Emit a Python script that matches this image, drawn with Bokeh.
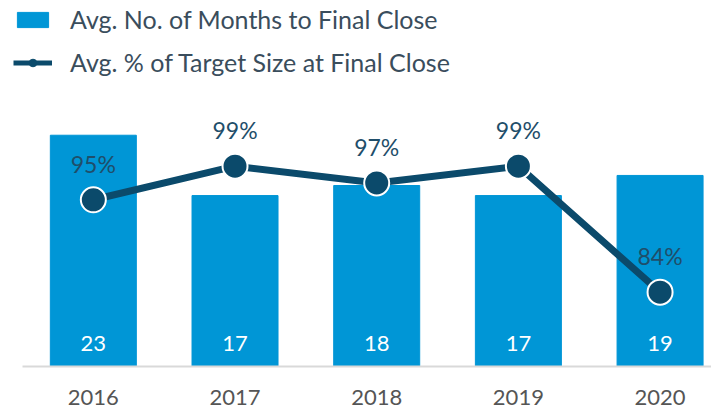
from bokeh.plotting import figure
from bokeh.models import Range1d, FixedTicker, Legend, LegendItem, ColumnDataSource
from bokeh.core.properties import value
from bokeh.embed import file_html
from bokeh.resources import INLINE

years = ["2016", "2017", "2018", "2019", "2020"]
months = [23, 17, 18, 17, 19]
pct = [95, 99, 97, 99, 84]

xs = [i + 0.5 for i in range(len(years))]
FONT = "Lato"
BLUE = "#0096d6"
NAVY = "#0b4a6b"

src = ColumnDataSource(dict(
    x=xs, months=months, pct=pct,
    mlab=[str(m) for m in months],
    plab=[f"{v}%" for v in pct],
))

p = figure(width=711, height=408, output_backend="svg", toolbar_location=None,
           x_range=Range1d(-0.0635, 4.863), y_range=Range1d(0, 36.0),
           y_axis_location=None,
           min_border_left=13, min_border_right=0, min_border_top=4, min_border_bottom=42)
p.extra_y_ranges = {"pct": Range1d(75.15, 118.25)}
p.grid.visible = False
p.outline_line_color = None

ax = p.xaxis[0]
ax.ticker = FixedTicker(ticks=xs)
ax.major_label_overrides = {x: y for x, y in zip(xs, years)}
ax.bounds = (0, len(years))
ax.axis_line_color = "#d9d9d9"
ax.axis_line_width = 2
ax.major_tick_line_color = None
ax.minor_tick_line_color = None
ax.major_label_text_font = FONT
ax.major_label_text_font_size = "22px"
ax.major_label_text_color = "#555555"
ax.major_label_standoff = 17

bars = p.vbar(x="x", top="months", width=0.607, color=BLUE, source=src)
p.text(x="x", y=0, text="mlab", source=src, text_align="center", text_baseline="middle",
       y_offset=-23, text_color="white", text_font=value(FONT), text_font_size="22px")

p.line(x="x", y="pct", source=src, y_range_name="pct", line_width=7, line_color=NAVY)
p.scatter(x="x", y="pct", source=src, y_range_name="pct", size=25, fill_color=NAVY,
          line_color="white", line_width=2)
p.text(x="x", y="pct", text="plab", source=src, y_range_name="pct", text_align="center",
       text_baseline="middle", y_offset=-36, text_color="#1f4e6a",
       text_font=value(FONT), text_font_size="23px")

# legend-only renderers (hidden), styled like the reference legend keys
leg_line = p.line(x="x", y="pct", source=src, y_range_name="pct", line_width=5,
                  line_color=NAVY, visible=False)
leg_dot = p.scatter(x="x", y="pct", source=src, y_range_name="pct", size=16,
                    fill_color=NAVY, line_color=NAVY, visible=False)

legend = Legend(items=[
    LegendItem(label="Avg. No. of Months to Final Close", renderers=[bars]),
    LegendItem(label="Avg. % of Target Size at Final Close", renderers=[leg_line, leg_dot]),
], location="top_left", glyph_width=39, glyph_height=19, label_height=26,
   label_standoff=18, spacing=13, padding=0, margin=0,
   border_line_color=None, background_fill_alpha=0,
   label_text_font=FONT, label_text_font_size="25px", label_text_color="#3a4d5c")
p.add_layout(legend)

open("out.html", "w").write(file_html(p, INLINE))
